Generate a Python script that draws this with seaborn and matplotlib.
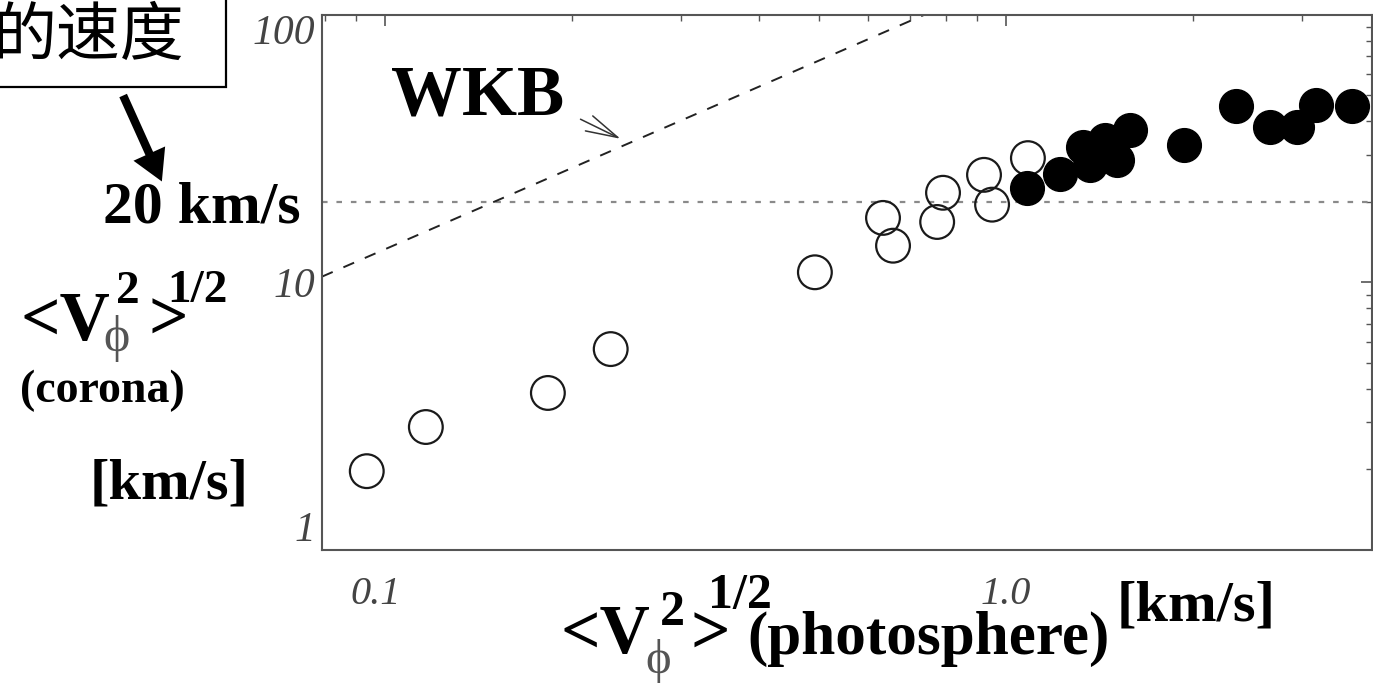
import numpy as np
import pandas as pd
import matplotlib
matplotlib.use("Agg")
import matplotlib.pyplot as plt
from matplotlib.patches import Rectangle
from matplotlib.transforms import ScaledTranslation
import seaborn as sns

# ---------------- data ----------------
open_x = [0.0935, 0.1164, 0.183, 0.231, 0.4925, 0.634, 0.658, 0.775, 0.792, 0.922, 0.950, 1.085]
open_y = [1.97, 2.88, 3.86, 5.63, 10.9, 17.4, 13.7, 16.8, 21.6, 25.2, 19.5, 29.1]
filled_x = [1.081, 1.222, 1.331, 1.366, 1.443, 1.509, 1.584, 1.934, 2.346, 2.661, 2.942, 3.157, 3.608]
filled_y = [22.5, 25.4, 32.0, 27.4, 34.0, 28.6, 37.1, 32.6, 45.6, 38.0, 38.0, 45.9, 45.6]
wkb_x = [0.0792, 0.74]
wkb_y = [10.5, 100.0]
ref_speed = 20  # km/s
x_ticks = [0.1, 1.0]
x_tick_labels = ["0.1", "1.0"]
y_ticks = [1, 10, 100]
y_tick_labels = ["1", "10", "100"]
x_limits = (0.0792, 3.886)
y_limits = (1, 100)

sns.set_style("white")
SERIF = ["Liberation Serif", "DejaVu Serif"]
CJK = ["Noto Sans CJK SC", "DejaVu Sans"]
plt.rcParams["font.family"] = SERIF

W, H = 1373, 686
fig = plt.figure(figsize=(W / 100, H / 100), dpi=100)
ax = fig.add_axes([322 / W, 1 - 550 / H, (1372 - 322) / W, (550 - 14.6) / H])

df_open = pd.DataFrame({"x": open_x, "y": open_y})
df_fill = pd.DataFrame({"x": filled_x, "y": filled_y})
df_wkb = pd.DataFrame({"x": wkb_x, "y": wkb_y})

ax.set_xscale("log")
ax.set_yscale("log")

sns.lineplot(data=df_wkb, x="x", y="y", ax=ax, color="#222222", lw=1.4,
             linestyle=(0, (6, 6)), estimator=None, sort=False)
ax.axhline(ref_speed, color="#8a8a8a", lw=1.6, linestyle=(0, (2.5, 4)), zorder=1)
sns.scatterplot(data=df_open, x="x", y="y", ax=ax, s=590, facecolors="none",
                edgecolor="#1a1a1a", linewidth=1.6, zorder=3)
sns.scatterplot(data=df_fill, x="x", y="y", ax=ax, s=590, color="black",
                edgecolor="black", linewidth=1.0, zorder=4)

ax.set_xlim(*x_limits)
ax.set_ylim(*y_limits)
ax.set_xlabel("")
ax.set_ylabel("")

for sp in ax.spines.values():
    sp.set_color("#555555")
    sp.set_linewidth(1.5)

ax.set_xticks(x_ticks)
ax.set_xticklabels(x_tick_labels)
ax.set_yticks(y_ticks)
ax.set_yticklabels(y_tick_labels)
ax.tick_params(which="both", direction="in", top=True, right=True, color="#555555")
ax.tick_params(which="major", length=8, width=1.2)
ax.tick_params(which="minor", length=4, width=1.0)
ax.tick_params(axis="x", which="major", pad=19, labelsize=29, labelcolor="#444444")
ax.tick_params(axis="y", which="major", pad=5, labelsize=30, labelcolor="#444444")
for lab in ax.get_xticklabels() + ax.get_yticklabels():
    lab.set_fontstyle("italic")
    lab.set_family(SERIF)
ylabs = ax.get_yticklabels()
ylabs[0].set_va("bottom")
ylabs[2].set_va("top")
xlabs = ax.get_xticklabels()
xlabs[0].set_transform(xlabs[0].get_transform() + ScaledTranslation(-9 / 100, 0, fig.dpi_scale_trans))


def fx(x):
    return x / W


def fy(y):
    return 1 - y / H


def ftext(x, y, s, size, weight="bold", ha="left", va="baseline", color="black", family=SERIF):
    fig.text(fx(x), fy(y), s, fontsize=size, fontweight=weight, ha=ha, va=va,
             color=color, family=family)


# y-axis label
ftext(20, 340, "<V", 50)
ftext(116, 303, "2", 34)
ftext(117, 339, "\u03d5", 36, weight="normal", ha="center", va="center", color="#555555")
ftext(148, 340, ">", 50)
ftext(167, 302, "1/2", 34)
ftext(20, 402, "(corona)", 33)
ftext(90, 498, "[km/s]", 42)

# x-axis label
ftext(560, 653, "<V", 50)
ftext(660, 625, "2", 36)
ftext(658, 661, "\u03d5", 35, weight="normal", ha="center", va="center", color="#555555")
ftext(690, 654, ">", 50)
ftext(708, 608, "1/2", 36)
ftext(747, 654, "(photosphere)", 44)
ftext(1117, 621, "[km/s]", 42)

# annotations
ftext(103, 222, "20 km/s", 43)
ftext(391, 115, "WKB", 51)
ax.annotate("", xy=(623, H - 140), xycoords="figure pixels",
            xytext=(578, H - 118), textcoords="figure pixels",
            arrowprops=dict(arrowstyle="->,head_length=2.3,head_width=0.6",
                            mutation_scale=10, lw=1.1, color="#333333"))
ax.annotate("", xy=(163, H - 184), xycoords="figure pixels",
            xytext=(122, H - 93), textcoords="figure pixels",
            arrowprops=dict(arrowstyle="simple,head_length=1.1,head_width=1.25,tail_width=0.3",
                            mutation_scale=20, color="black", lw=0), annotation_clip=False)

fig.patches.append(Rectangle((fx(-20), fy(87)), fx(246), 100 / H, transform=fig.transFigure,
                             fill=False, edgecolor="black", lw=1.6, clip_on=False))
ftext(184, 37, "的速度", 46, weight="normal", ha="right", va="center", family=CJK)

fig.savefig("out.png", dpi=100)
